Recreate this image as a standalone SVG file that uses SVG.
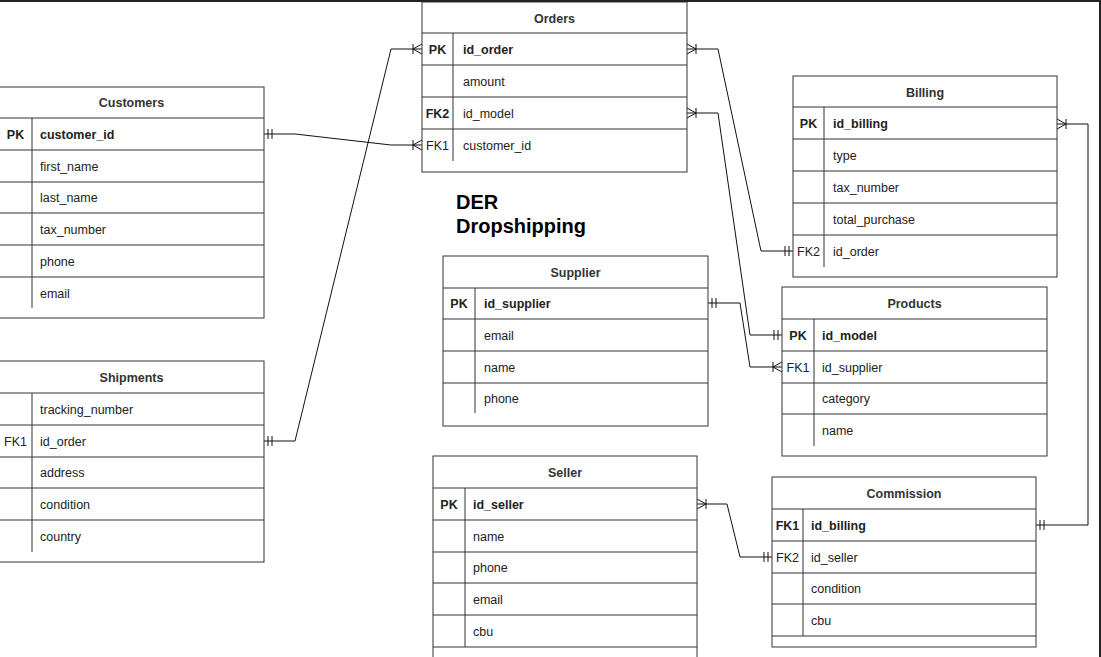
<svg xmlns="http://www.w3.org/2000/svg" width="1101" height="657" viewBox="0 0 1101 657">
<style>
text{font-family:"Liberation Sans",Arial,Helvetica,sans-serif;font-size:12.5px;fill:#222}
.h{text-anchor:middle;font-weight:bold;fill:#333}
.k{text-anchor:middle}
.b{font-weight:bold}
.box{fill:#fff;stroke:#333;stroke-width:1}
.ln{stroke:#333;stroke-width:1;fill:none}
.c{stroke:#111;stroke-width:1;fill:none}
.title{font-size:20px;font-weight:bold;fill:#000}
</style>
<defs>
<marker id="one" markerUnits="userSpaceOnUse" markerWidth="20" markerHeight="20" refX="0" refY="0" orient="auto-start-reverse" overflow="visible"><path d="M-4,-5V5M-8,-5V5" stroke="#111" fill="none"/></marker>
<marker id="many" markerUnits="userSpaceOnUse" markerWidth="20" markerHeight="20" refX="0" refY="0" orient="auto-start-reverse" overflow="visible"><path d="M-9,-5V5M-9,0L0,-5M-9,0L0,5" stroke="#111" fill="none"/></marker>
</defs>
<rect width="1101" height="657" fill="#fff"/>

<g id="connectors">
<polyline class="c" points="264,134 295,134 391,145 422,145" marker-start="url(#one)" marker-end="url(#many)"/>
<polyline class="c" points="264,441 295,441 391,49 422,49" marker-start="url(#one)" marker-end="url(#many)"/>
<polyline class="c" points="687,49 718,49 761,251 793,251" marker-start="url(#many)" marker-end="url(#one)"/>
<polyline class="c" points="687,113 718,113 750,335 782,335" marker-start="url(#many)" marker-end="url(#one)"/>
<polyline class="c" points="708,303 740,303 750,367 782,367" marker-start="url(#one)" marker-end="url(#many)"/>
<polyline class="c" points="1057,124 1088,124 1088,525 1036,525" marker-start="url(#many)" marker-end="url(#one)"/>
<polyline class="c" points="697,504 727,504 740,557 772,557" marker-start="url(#many)" marker-end="url(#one)"/>
</g>

<g id="orders">
<rect class="box" x="422" y="2" width="265" height="170"/>
<path class="ln" d="M422,33H687M422,65H687M422,97H687M422,129H687M453,33V161"/>
<text class="h" x="554.5" y="22.5">Orders</text>
<text class="k b" x="437.5" y="53.5">PK</text><text class="b" x="463" y="53.5">id_order</text>
<text x="463" y="85.5">amount</text>
<text class="k b" x="437.5" y="117.5">FK2</text><text x="463" y="117.5">id_model</text>
<text class="k" x="437.5" y="149.5">FK1</text><text x="463" y="149.5">customer_id</text>
</g>

<g id="customers">
<rect class="box" x="-1" y="87" width="265" height="231"/>
<path class="ln" d="M-1,118H264M-1,150H264M-1,182H264M-1,213H264M-1,245H264M-1,277H264M32,118V308"/>
<text class="h" x="131.5" y="107">Customers</text>
<text class="k b" x="15.5" y="138.5">PK</text><text class="b" x="40" y="138.5">customer_id</text>
<text x="40" y="170.5">first_name</text>
<text x="40" y="202">last_name</text>
<text x="40" y="233.5">tax_number</text>
<text x="40" y="265.5">phone</text>
<text x="40" y="297.5">email</text>
</g>

<g id="shipments">
<rect class="box" x="-1" y="361" width="265" height="201"/>
<path class="ln" d="M-1,393H264M-1,425H264M-1,457H264M-1,488H264M-1,520H264M32,393V552"/>
<text class="h" x="131.5" y="381.5">Shipments</text>
<text x="40" y="413.5">tracking_number</text>
<text class="k" x="15.5" y="445.5">FK1</text><text x="40" y="445.5">id_order</text>
<text x="40" y="477">address</text>
<text x="40" y="508.5">condition</text>
<text x="40" y="540.5">country</text>
</g>

<g id="billing">
<rect class="box" x="793" y="76" width="264" height="201"/>
<path class="ln" d="M793,107H1057M793,139H1057M793,171H1057M793,203H1057M793,235H1057M824,107V267"/>
<text class="h" x="925" y="96.5">Billing</text>
<text class="k b" x="808.5" y="128">PK</text><text class="b" x="833" y="128">id_billing</text>
<text x="833" y="159.5">type</text>
<text x="833" y="191.5">tax_number</text>
<text x="833" y="223.5">total_purchase</text>
<text class="k" x="808.5" y="255.5">FK2</text><text x="833" y="255.5">id_order</text>
</g>

<g id="products">
<rect class="box" x="782" y="287" width="265" height="169"/>
<path class="ln" d="M782,319H1047M782,351H1047M782,383H1047M782,414H1047M814,319V446"/>
<text class="h" x="914.5" y="307.5">Products</text>
<text class="k b" x="798" y="339.5">PK</text><text class="b" x="822" y="339.5">id_model</text>
<text class="k" x="798" y="371.5">FK1</text><text x="822" y="371.5">id_supplier</text>
<text x="822" y="403">category</text>
<text x="822" y="434.5">name</text>
</g>

<g id="supplier">
<rect class="box" x="443" y="256" width="265" height="170"/>
<path class="ln" d="M443,288H708M443,319H708M443,351H708M443,383H708M475,288V413"/>
<text class="h" x="575.5" y="276.5">Supplier</text>
<text class="k b" x="459" y="308">PK</text><text class="b" x="484" y="308">id_supplier</text>
<text x="484" y="339.5">email</text>
<text x="484" y="371.5">name</text>
<text x="484" y="402.5">phone</text>
</g>

<g id="seller">
<rect class="box" x="433" y="456" width="264" height="215"/>
<path class="ln" d="M433,488H697M433,520H697M433,552H697M433,583H697M433,615H697M433,647H697M465,488V647"/>
<text class="h" x="565" y="476.5">Seller</text>
<text class="k b" x="449" y="508.5">PK</text><text class="b" x="473" y="508.5">id_seller</text>
<text x="473" y="540.5">name</text>
<text x="473" y="572">phone</text>
<text x="473" y="603.5">email</text>
<text x="473" y="635.5">cbu</text>
</g>

<g id="commission">
<rect class="box" x="772" y="477" width="264" height="170"/>
<path class="ln" d="M772,509H1036M772,541H1036M772,573H1036M772,604H1036M772,636H1036M803,509V636"/>
<text class="h" x="904" y="497.5">Commission</text>
<text class="k b" x="787.5" y="529.5">FK1</text><text class="b" x="811" y="529.5">id_billing</text>
<text class="k" x="787.5" y="561.5">FK2</text><text x="811" y="561.5">id_seller</text>
<text x="811" y="592.5">condition</text>
<text x="811" y="624.5">cbu</text>
</g>

<g id="title">
<text class="title" x="456" y="209">DER</text>
<text class="title" x="456" y="233">Dropshipping</text>
</g>

<rect x="0" y="0" width="1101" height="2" fill="#222"/>
<rect x="1099" y="0" width="2" height="657" fill="#222"/>
</svg>
